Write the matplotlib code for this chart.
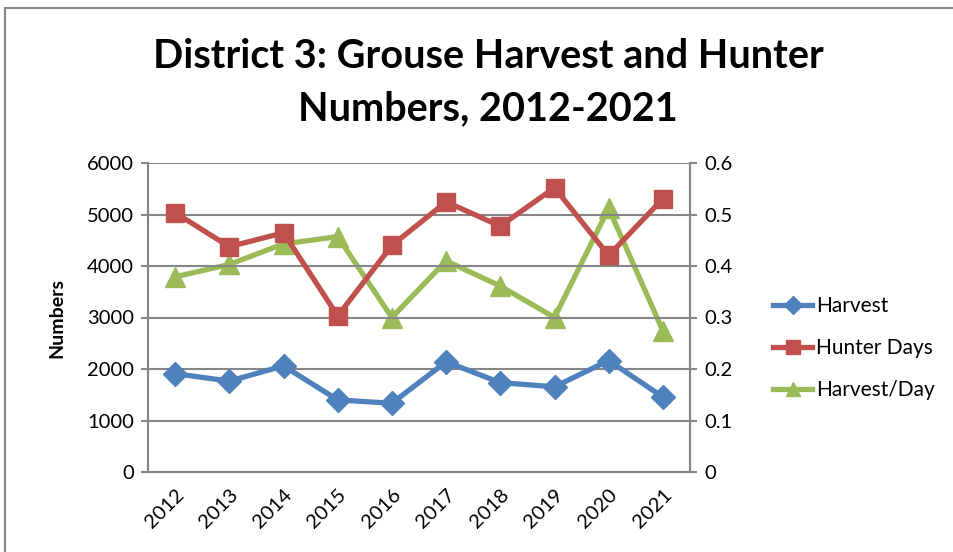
import matplotlib.pyplot as plt
import matplotlib.patches

years = ["2012", "2013", "2014", "2015", "2016", "2017", "2018", "2019", "2020", "2021"]
harvest = [1910, 1765, 2060, 1400, 1335, 2140, 1735, 1655, 2165, 1455]
hunter_days = [5035, 4375, 4645, 3030, 4400, 5245, 4775, 5520, 4205, 5305]
harvest_per_day = [0.379, 0.403, 0.443, 0.457, 0.300, 0.410, 0.361, 0.300, 0.512, 0.274]

left_ticks = [0, 1000, 2000, 3000, 4000, 5000, 6000]
right_ticks = [0, 0.1, 0.2, 0.3, 0.4, 0.5, 0.6]
right_labels = ["0", "0.1", "0.2", "0.3", "0.4", "0.5", "0.6"]

plt.rcParams["font.family"] = ["Lato", "DejaVu Sans"]
axis_grey = "#868686"

fig = plt.figure(figsize=(9.54, 5.52), dpi=100)
ax = fig.add_axes([148 / 954, 1 - 472 / 552, (690 - 148) / 954, (472 - 163) / 552])
ax2 = ax.twinx()

# outer chart border (right and bottom edges are cut off in the reference)
fig.patches.append(matplotlib.patches.Rectangle(
    (5 / 954, -0.1), 1.2, 1 - 8 / 552 + 0.1, transform=fig.transFigure,
    fill=False, edgecolor=axis_grey, linewidth=1.5))

x = list(range(len(years)))
l1, = ax.plot(x, harvest, color="#4F81BD", lw=3.8, marker="D", ms=12, label="Harvest")
l2, = ax.plot(x, hunter_days, color="#C0504D", lw=3.8, marker="s", ms=13, label="Hunter Days")
l3, = ax2.plot(x, harvest_per_day, color="#9BBB59", lw=3.8, marker="^", ms=14, label="Harvest/Day")
ax2.set_zorder(ax.get_zorder() - 1)
ax.patch.set_visible(False)

ax.set_xlim(-0.5, len(years) - 0.5)
ax.set_ylim(0, 6000)
ax2.set_ylim(0, 0.6)
ax.set_yticks(left_ticks)
ax2.set_yticks(right_ticks)
ax2.set_yticklabels(right_labels)
ax.set_xticks(x)
ax.set_xticklabels(years, rotation=45, ha="right", rotation_mode="anchor")
ax.tick_params(axis="x", length=0, pad=10, labelsize=14.5)
ax.tick_params(axis="y", length=5, width=1.5, color=axis_grey, labelsize=14.5, pad=5)
ax2.tick_params(axis="y", length=5, width=1.5, color=axis_grey, labelsize=14.5, pad=5)
ax.grid(axis="y", color=axis_grey, lw=1.5)
ax.set_axisbelow(True)

for a in (ax, ax2):
    for s in a.spines.values():
        s.set_color(axis_grey)
        s.set_linewidth(1.5)
    a.spines["top"].set_visible(False)

ax.set_ylabel("Numbers", fontsize=14, fontweight="bold", labelpad=16)
fig.text(488 / 954, 1 - 83 / 552, "District 3: Grouse Harvest and Hunter\nNumbers, 2012-2021",
         ha="center", va="center", fontsize=28.5, fontweight="bold", linespacing=1.5)

ax.legend([l1, l2, l3], ["Harvest", "Hunter Days", "Harvest/Day"],
          loc="center left", bbox_to_anchor=(754 / 954, 1 - 348 / 552),
          bbox_transform=fig.transFigure, frameon=False, fontsize=15,
          handlelength=1.9, handletextpad=0.2, labelspacing=1.05, markerscale=0.75)

fig.savefig("out.png", dpi=100)
